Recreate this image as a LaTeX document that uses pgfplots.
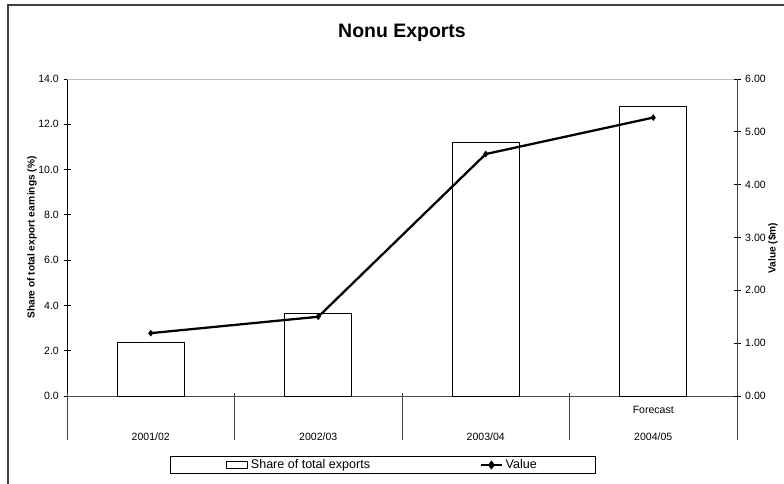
\documentclass[border=0pt]{standalone}
\usepackage{fontspec}
\setmainfont{Liberation Sans}
\usepackage{pgfplots}
\pgfplotsset{compat=1.18}

\pgfplotsset{
  nonu common/.style={
    scale only axis, width=502.5pt, height=237.75pt,
    at={(50.25pt,65.25pt)}, anchor=south west,
    xmin=-0.5, xmax=3.5, ymin=0,
    clip=false,
    tick align=center, major tick length=5.25pt,
    tick style={line width=0.6pt, black},
    ticklabel style={font=\fontsize{7.9}{9}\selectfont},
    /pgf/number format/assume math mode=true,
    label style={font=\bfseries\fontsize{7.6}{9}\selectfont},
    axis line style={-, line width=0.7pt},
  }
}

\begin{document}
\begin{tikzpicture}
\useasboundingbox (0,0) rectangle (588pt,362.25pt);
% outer chart frame
\draw[line width=1.3pt, black!75] (6pt,-2pt) -- (6pt,358.5pt) -- (590pt,358.5pt);
\node[font=\bfseries\fontsize{14.6}{17}\selectfont] at (301.5pt,337.5pt) {Nonu Exports};

% share of total export earnings (bars, left axis)
\begin{axis}[nonu common,
  ymax=14, ytick={0,2,...,14},
  yticklabel style={/pgf/number format/fixed, /pgf/number format/fixed zerofill, /pgf/number format/precision=1},
  xtick={0,1,2,3}, xticklabels={2001/02,2002/03,2003/04,2004/05},
  xtick style={draw=none},
  xticklabel style={anchor=center, yshift=-27.75pt},
  axis x line*=bottom, axis y line*=left,
  x axis line style={black!70},
  ylabel={Share of total export earnings (\%)},
  ylabel style={at={(rel axis cs:0,0.5)}, anchor=center, yshift=26.25pt},
]
\addplot[ybar, bar width=50.25pt, fill=white, draw=black, line width=0.6pt]
  coordinates {(0,2.38) (1,3.67) (2,11.22) (3,12.81)};
\draw[black!25, line width=0.6pt] (rel axis cs:0,1) -- (rel axis cs:1,1);
% category separators below the axis
\pgfplotsinvokeforeach{-0.5,0.5,1.5,2.5,3.5}{
  \draw[black!75, line width=0.7pt] (axis cs:#1,0) ++(0pt,2pt) -- ++(0pt,-35pt);
}
\node[font=\fontsize{7.9}{9}\selectfont] at (axis cs:3,0) [yshift=-10.5pt] {Forecast};
\end{axis}

% value in $m (line, right axis)
\begin{axis}[nonu common,
  ymax=6, ytick={0,1,...,6},
  yticklabel style={/pgf/number format/fixed, /pgf/number format/fixed zerofill, /pgf/number format/precision=2},
  axis y line*=right, axis x line=none,
  y axis line style={black!75},
  ylabel={Value (\$m)},
  ylabel style={at={(rel axis cs:1,0.5)}, anchor=center, yshift=-27pt, xshift=-7.9pt},
  legend columns=2,
  legend style={at={(0.4716,-0.2177)}, anchor=center, draw=black, line width=0.6pt,
    font=\fontsize{9.4}{11}\selectfont, inner xsep=41.75pt, inner ysep=0.5pt,
    /tikz/every even column/.append style={column sep=80.25pt}},
]
\addlegendimage{legend image code/.code={\draw[black, fill=white, line width=0.6pt] (0pt,-2.6pt) rectangle (15.75pt,2.6pt);}}
\addlegendentry{Share of total exports}
\addplot[black, line width=1.7pt, mark=diamond*, mark size=2.2pt, mark options={solid, line width=0.4pt},
  legend image code/.code={\draw[black, line width=1.7pt] (0pt,0pt) -- (15.75pt,0pt);
    \fill[black] (7.9pt,0pt) +(0,2pt) -- +(1.5pt,0) -- +(0,-2pt) -- +(-1.5pt,0) -- cycle;}]
  coordinates {(0,1.19) (1,1.50) (2,4.58) (3,5.27)};
\addlegendentry{Value}
\end{axis}
\end{tikzpicture}
\end{document}
